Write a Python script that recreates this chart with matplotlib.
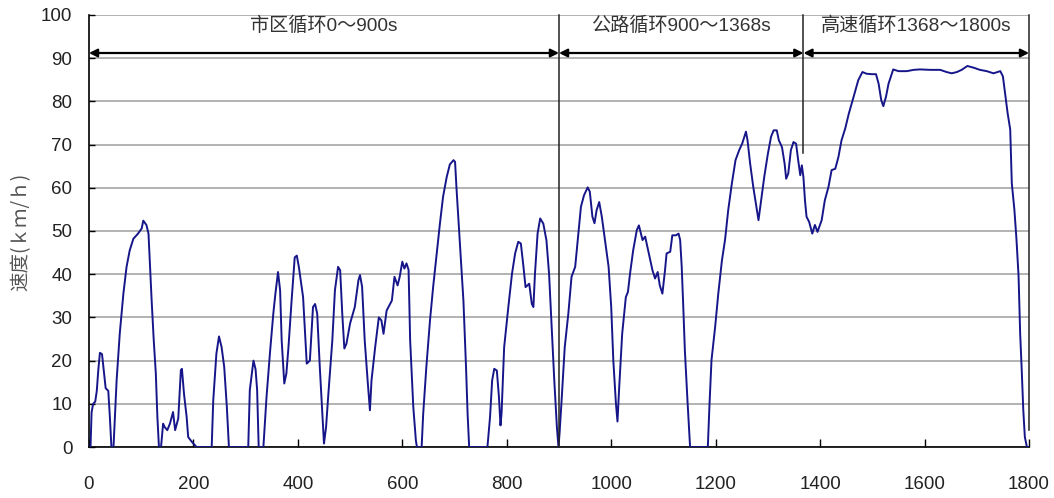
import matplotlib
matplotlib.use("Agg")
import matplotlib.pyplot as plt

# ---- data (time s, speed km/h) ----
time_s = [0, 3, 5, 8, 12, 15, 18, 21, 25, 29, 32, 37, 40, 43, 47, 53, 59, 66, 72, 78, 85, 94, 101, 104,
          110, 114, 117, 120, 124, 128, 131, 134, 138, 142, 145, 150, 155, 161, 165, 171, 176, 178, 182,
          187, 190, 197, 206, 235, 238, 244, 249, 254, 259, 264, 268, 305, 308, 312, 315, 319, 322, 325,
          334, 340, 347, 353, 357, 362, 366, 369, 374, 378, 382, 388, 394, 398, 402, 410, 415, 417, 423,
          429, 433, 437, 442, 447, 450, 454, 458, 466, 471, 477, 481, 485, 489, 493, 500, 509, 516, 519,
          523, 528, 534, 538, 541, 548, 555, 560, 564, 570, 580, 585, 591, 595, 600, 604, 608, 612, 615,
          618, 621, 626, 628, 637, 640, 646, 653, 659, 666, 672, 678, 685, 691, 698, 701, 704, 710, 717,
          722, 725, 728, 763, 768, 772, 776, 781, 785, 788, 790, 795, 803, 810, 816, 822, 827, 832, 836,
          843, 848, 851, 854, 859, 864, 870, 876, 881, 886, 891, 896, 899, 901, 905, 911, 918, 924, 931,
          937, 942, 948, 955, 959, 964, 968, 972, 977, 982, 988, 995, 1000, 1004, 1009, 1012, 1015, 1021,
          1028, 1032, 1036, 1042, 1049, 1053, 1060, 1065, 1072, 1079, 1084, 1089, 1093, 1098, 1103, 1106,
          1113, 1117, 1124, 1129, 1132, 1135, 1138, 1141, 1146, 1151, 1185, 1188, 1192, 1199, 1205, 1212,
          1218, 1224, 1231, 1238, 1245, 1251, 1258, 1261, 1266, 1272, 1279, 1282, 1287, 1293, 1300, 1306,
          1311, 1317, 1321, 1327, 1332, 1335, 1339, 1344, 1349, 1354, 1358, 1362, 1365, 1368, 1371, 1374,
          1379, 1385, 1390, 1395, 1403, 1409, 1416, 1422, 1429, 1435, 1441, 1448, 1455, 1464, 1473, 1481,
          1489, 1499, 1507, 1512, 1517, 1521, 1526, 1531, 1535, 1540, 1550, 1566, 1579, 1591, 1611, 1630,
          1642, 1652, 1662, 1671, 1682, 1694, 1706, 1719, 1732, 1745, 1750, 1754, 1759, 1764, 1767, 1772,
          1776, 1780, 1783, 1786, 1789, 1792, 1796, 1800]
speed_kmh = [0, 0, 8, 10, 10.5, 13, 18, 21.8, 21.5, 17, 13.6, 13, 7, 0, 0, 15.5, 26.3, 35.6, 41.7, 45.5,
             48.2, 49.4, 50.6, 52.4, 51.4, 49.4, 41.7, 34, 24.8, 17.1, 7, 0, 0, 5.4, 4.6, 3.9, 5.4, 8.1,
             3.9, 6.6, 17.8, 18.1, 12.3, 7, 2.3, 1.2, 0, 0, 10.8, 21.6, 25.6, 23.1, 18.5, 9.3, 0, 0, 13.2,
             17, 20, 18, 13.2, 0, 0, 11.6, 22.4, 30.9, 35.5, 40.5, 36.3, 24.7, 14.7, 17, 23.1, 33.9, 43.9,
             44.3, 41.6, 34.7, 23.9, 19.3, 20, 32.4, 33.1, 30.9, 18.5, 7.7, 0.8, 4.6, 11.6, 24.7, 36.3,
             41.7, 40.9, 30.9, 22.8, 23.9, 28.6, 32.4, 38.6, 39.8, 37.1, 24.7, 14.7, 8.5, 15.4, 23.1, 30,
             29.3, 26.2, 31.6, 33.9, 39.4, 37.4, 39.4, 42.9, 41.3, 42.5, 41, 24.7, 17, 9.3, 1.5, 0, 0, 7.7,
             18.5, 29.3, 37, 44.8, 51.7, 57.9, 62.5, 65.4, 66.4, 66, 59.4, 47.8, 33.9, 18.5, 7.7, 0, 0, 7,
             15.4, 18.1, 17.7, 11.6, 5, 7.7, 23.1, 32.4, 40.1, 44.8, 47.5, 47.1, 41.7, 37, 37.8, 33.1, 32.4,
             40.1, 49.4, 52.9, 51.7, 47.8, 40.1, 27.8, 15.4, 4.6, 0, 3, 10.8, 23.1, 31, 39.4, 41.7, 49.4,
             55.6, 58.3, 60.1, 59.1, 53.3, 51.8, 54.8, 56.7, 53.3, 47.9, 41.7, 32.4, 20.1, 10.1, 5.9, 13.2,
             26.2, 34.7, 35.9, 40.1, 45.5, 50.2, 51.3, 47.9, 48.7, 44.8, 40.9, 39, 40.5, 37.4, 35.5, 40.9,
             44.8, 45.2, 49, 49, 49.4, 47.9, 41.7, 32.4, 22.4, 10.8, 0, 0, 9.3, 20.1, 27.8, 35.5, 43.2, 48,
             54.8, 61, 66.4, 68.7, 70.3, 73, 71, 65.6, 60.2, 54.8, 52.5, 57.1, 62.5, 67.9, 71.8, 73.3, 73.3,
             71, 69.4, 65.6, 62.1, 63.3, 68.7, 70.6, 70.2, 66.4, 62.9, 65.2, 62.5, 57.1, 53.3, 52.1, 49.4,
             51.4, 49.8, 52.5, 57.1, 60.2, 64.1, 64.4, 67.1, 71, 73.7, 77.2, 81, 84.9, 86.8, 86.4, 86.3,
             86.3, 84.1, 80.3, 78.9, 81, 84.1, 85.6, 87.4, 87, 87, 87.3, 87.4, 87.3, 87.3, 86.8, 86.5, 86.8,
             87.3, 88.2, 87.8, 87.3, 87, 86.5, 87, 85.8, 82, 77.3, 73.5, 61.1, 54.9, 48, 39.5, 26.4, 17.9,
             8.6, 2.3, 0, 0]

x_ticks = [0, 200, 400, 600, 800, 1000, 1200, 1400, 1600, 1800]
y_ticks = [0, 10, 20, 30, 40, 50, 60, 70, 80, 90, 100]
segment_bounds = [0, 900, 1368, 1800]
segment_labels = ["市区循环0～900s", "公路循环900～1368s", "高速循环1368～1800s"]
y_label = "速度(ｋｍ/ｈ)"

LAT = ["Liberation Sans", "Noto Sans CJK SC", "DejaVu Sans"]
CJK = ["Noto Sans CJK SC", "DejaVu Sans"]

fig = plt.figure(figsize=(10.54, 4.98), dpi=100)
ax = fig.add_axes([0.0844, 0.1024, 0.8919, 0.8675])

ax.set_xlim(0, 1800)
ax.set_ylim(0, 100)
ax.set_xticks(x_ticks)
ax.set_yticks(y_ticks)
ax.yaxis.grid(True, color="#a6a6a6", lw=1.2)
ax.set_axisbelow(True)

for s in ["top", "right"]:
    ax.spines[s].set_visible(False)
for s in ["left", "bottom"]:
    ax.spines[s].set_color("black")
    ax.spines[s].set_linewidth(1.2)

ax.tick_params(axis="x", direction="in", length=6, width=1, pad=21, labelsize=13.5, labelcolor="#222222")
ax.tick_params(axis="y", direction="in", length=4, width=1, pad=12, labelsize=13.5, labelcolor="#222222")
for lab in ax.get_xticklabels() + ax.get_yticklabels():
    lab.set_family(LAT)

ax.plot(time_s, speed_kmh, color="#16168a", lw=1.4, zorder=3)

# divider lines
ax.plot([900, 900], [0, 100], color="#222222", lw=1.1, zorder=4, clip_on=False)
ax.plot([1368, 1368], [68, 100], color="#222222", lw=1.1, zorder=4, clip_on=False)
ax.plot([1800, 1800], [4, 100], color="#222222", lw=1.1, zorder=4, clip_on=False)

# arrows and labels
for i in range(3):
    a, b = segment_bounds[i], segment_bounds[i + 1]
    ax.annotate("", xy=(a, 91.2), xytext=(b, 91.2),
                arrowprops=dict(arrowstyle="<|-|>", color="black", lw=1.6,
                                shrinkA=0, shrinkB=0, mutation_scale=12),
                annotation_clip=False, zorder=5)
    ax.text((a + b) / 2, 97.6, segment_labels[i], ha="center", va="center",
            fontsize=13.8, family=LAT, color="#333333", zorder=5)

fig.text(0.02, 0.535, y_label, rotation=90, ha="center", va="center",
         fontsize=14, family=CJK, color="#555555")

fig.savefig("out.png", dpi=100)
